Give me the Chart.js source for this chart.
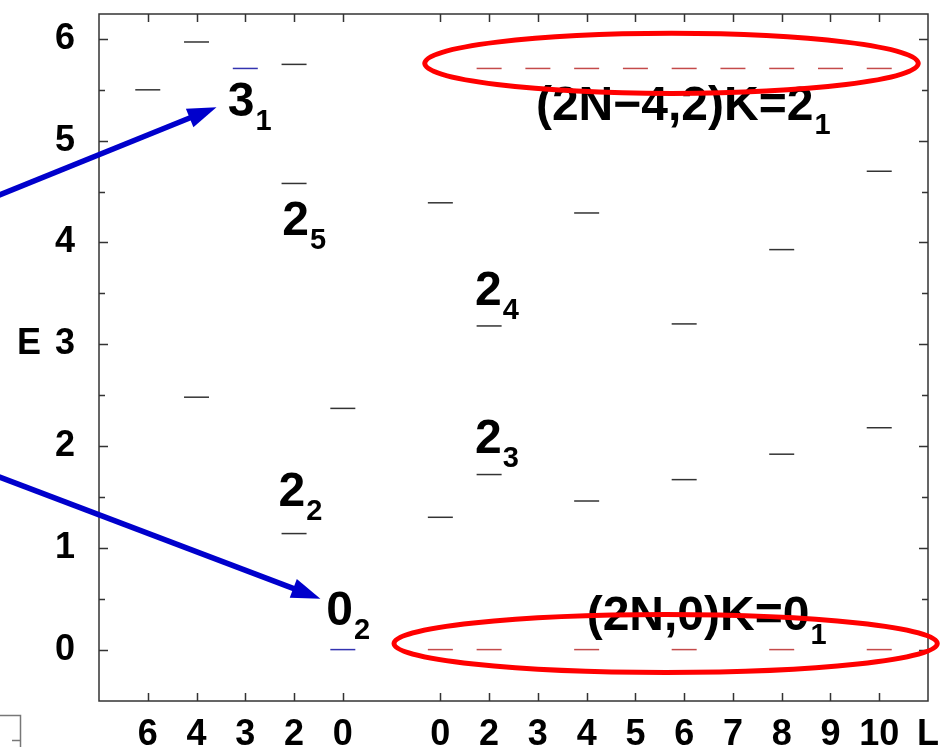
<!DOCTYPE html>
<html>
<head>
<meta charset="utf-8">
<script src="https://cdn.jsdelivr.net/npm/chart.js@4"></script>
<style>
  html, body { margin: 0; padding: 0; background: #fff; }
  canvas { display: block; }
</style>
</head>
<body>
<canvas id="levels" width="942" height="747"></canvas>
<script>
// x slots: left group, an empty slot, right group, last slot only carries "L"
const slotLabels = ['', '6', '4', '3', '2', '0', '', '0', '2', '3', '4', '5', '6', '7', '8', '9', '10', 'L'];
const tickSlots = [1, 2, 3, 4, 5, 7, 8, 9, 10, 11, 12, 13, 14, 15, 16];

// black levels
const levelSlot = [1, 2, 4, 4, 7, 10, 16, 14, 8, 12, 2, 5, 16, 14, 8, 12, 10, 7, 4];
const levelE = [5.50, 5.97, 5.75, 4.58, 4.39, 4.29, 4.70, 3.93, 3.18, 3.20, 2.48, 2.37, 2.18, 1.92, 1.72, 1.67, 1.46, 1.30, 1.14];

// blue levels (3_1 and 0_2)
const blueSlot = [3, 5];
const blueE = [5.71, 0];

// red bands
const band2Slot = [8, 9, 10, 11, 12, 13, 14, 15, 16];
const band2E = [5.71, 5.71, 5.71, 5.71, 5.71, 5.71, 5.71, 5.71, 5.71];
const band0Slot = [7, 8, 10, 12, 14, 16];
const band0E = [0, 0, 0, 0, 0, 0];

// annotations, placed in axis units
const stateLabels = [
    { text: '3', sub: '1', x: 2.64, y: 5.24 },
    { text: '2', sub: '5', x: 3.76, y: 4.07 },
    { text: '2', sub: '4', x: 7.71, y: 3.39 },
    { text: '2', sub: '3', x: 7.71, y: 1.93 },
    { text: '2', sub: '2', x: 3.68, y: 1.41 },
    { text: '0', sub: '2', x: 4.66, y: 0.24 },
    { text: '(2N\u22124,2)K=2', sub: '1', x: 8.96, y: 5.20 },
    { text: '(2N,0)K=0', sub: '1', x: 10.0, y: 0.19 }
];
const ellipses = [
    { x: 11.74, y: 5.76, rx: 5.06, ry: 0.295 },
    { x: 11.62, y: 0.06, rx: 5.57, ry: 0.285 }
];
const arrows = [
    { x0: -2.23, y0: 4.43, x1: 2.41, y1: 5.33 },
    { x0: -2.23, y0: 1.73, x1: 4.54, y1: 0.50 }
];

const FONT = "'Liberation Sans', Arial, sans-serif";

function pts(xs, ys) {
    return xs.map((x, i) => ({ x: x, y: ys[i] }));
}

function levelSet(data, color) {
    return {
        data: data,
        showLine: false,
        pointStyle: 'line',
        pointRadius: 12.5,
        pointHoverRadius: 12.5,
        borderColor: color,
        borderWidth: 1.5
    };
}

const decor = {
    id: 'decor',
    afterDraw(chart) {
        const ctx = chart.ctx;
        const a = chart.chartArea;
        const xs = chart.scales.x;
        const ys = chart.scales.y;
        ctx.save();

        // frame and inner ticks
        ctx.strokeStyle = '#333';
        ctx.lineWidth = 1.5;
        ctx.strokeRect(a.left, a.top, a.right - a.left, a.bottom - a.top);
        ctx.beginPath();
        for (let v = 0; v <= 6; v += 0.5) {
            const py = Math.round(ys.getPixelForValue(v)) + 0.5;
            const len = Number.isInteger(v) ? 9 : 6;
            ctx.moveTo(a.left, py); ctx.lineTo(a.left + len, py);
            ctx.moveTo(a.right, py); ctx.lineTo(a.right - len, py);
        }
        tickSlots.forEach(s => {
            const px = Math.round(xs.getPixelForValue(s)) + 0.5;
            ctx.moveTo(px, a.top); ctx.lineTo(px, a.top + 8);
            ctx.moveTo(px, a.bottom); ctx.lineTo(px, a.bottom - 8);
        });
        ctx.stroke();

        // axis name
        ctx.fillStyle = '#000';
        ctx.font = 'bold 36px ' + FONT;
        ctx.textAlign = 'center';
        ctx.textBaseline = 'middle';
        ctx.fillText('E', a.left - 70, ys.getPixelForValue(3));

        // state labels with subscripts
        ctx.textAlign = 'left';
        ctx.textBaseline = 'alphabetic';
        stateLabels.forEach(l => {
            const px = xs.getPixelForValue(l.x);
            const py = ys.getPixelForValue(l.y);
            ctx.font = 'bold 48px ' + FONT;
            ctx.fillText(l.text, px, py);
            const w = ctx.measureText(l.text).width;
            ctx.font = 'bold 29px ' + FONT;
            ctx.fillText(l.sub, px + w + 1, py + 14);
        });

        // red ellipses
        ctx.strokeStyle = '#f00';
        ctx.lineWidth = 5;
        const unitX = xs.getPixelForValue(1) - xs.getPixelForValue(0);
        const unitY = ys.getPixelForValue(0) - ys.getPixelForValue(1);
        ellipses.forEach(e => {
            ctx.beginPath();
            ctx.ellipse(xs.getPixelForValue(e.x), ys.getPixelForValue(e.y), e.rx * unitX, e.ry * unitY, 0, 0, Math.PI * 2);
            ctx.stroke();
        });

        // blue arrows
        ctx.strokeStyle = '#0000cc';
        ctx.fillStyle = '#0000cc';
        ctx.lineWidth = 5.5;
        arrows.forEach(r => {
            const x0 = xs.getPixelForValue(r.x0), y0 = ys.getPixelForValue(r.y0);
            const x1 = xs.getPixelForValue(r.x1), y1 = ys.getPixelForValue(r.y1);
            const ang = Math.atan2(y1 - y0, x1 - x0);
            const head = 29, half = 10;
            const bx = x1 - head * Math.cos(ang), by = y1 - head * Math.sin(ang);
            ctx.beginPath();
            ctx.moveTo(x0, y0);
            ctx.lineTo(bx + 2 * Math.cos(ang), by + 2 * Math.sin(ang));
            ctx.stroke();
            ctx.beginPath();
            ctx.moveTo(x1, y1);
            ctx.lineTo(bx - half * Math.sin(ang), by + half * Math.cos(ang));
            ctx.lineTo(bx + half * Math.sin(ang), by - half * Math.cos(ang));
            ctx.closePath();
            ctx.fill();
        });

        // corner of a neighbouring panel, bottom left
        ctx.strokeStyle = '#777';
        ctx.lineWidth = 1.5;
        ctx.beginPath();
        ctx.moveTo(0, 715.5); ctx.lineTo(20.5, 715.5); ctx.lineTo(20.5, 747);
        ctx.moveTo(12, 740.5); ctx.lineTo(20.5, 740.5);
        ctx.stroke();

        ctx.restore();
    }
};

new Chart(document.getElementById('levels'), {
    type: 'scatter',
    data: {
        datasets: [
            levelSet(pts(levelSlot, levelE), '#333'),
            levelSet(pts(blueSlot, blueE), '#3333b0'),
            levelSet(pts(band2Slot, band2E), '#c44a4a'),
            levelSet(pts(band0Slot, band0E), '#c44a4a')
        ]
    },
    options: {
        responsive: false,
        animation: false,
        events: [],
        layout: { padding: { top: 10, right: 12, left: 0, bottom: 0 } },
        plugins: {
            legend: { display: false },
            tooltip: { enabled: false }
        },
        scales: {
            x: {
                type: 'linear',
                min: 0,
                max: 17,
                afterFit: s => {
                    s.height = 46;
                    s.paddingLeft = 0;
                    s.paddingRight = 0;
                },
                grid: { display: false, drawTicks: false },
                border: { display: false },
                ticks: {
                    stepSize: 1,
                    autoSkip: false,
                    maxRotation: 0,
                    padding: 12,
                    color: '#000',
                    font: { family: FONT, size: 36, weight: 'bold' },
                    callback: v => slotLabels[v] || ''
                }
            },
            y: {
                min: -0.505,
                max: 6.245,
                afterFit: s => {
                    s.width = 99;
                    s.paddingTop = 0;
                    s.paddingBottom = 0;
                },
                grid: { display: false, drawTicks: false },
                border: { display: false },
                ticks: {
                    stepSize: 1,
                    includeBounds: false,
                    padding: 24,
                    color: '#000',
                    font: { family: FONT, size: 36, weight: 'bold' }
                }
            }
        }
    },
    plugins: [decor]
});
</script>
</body>
</html>
